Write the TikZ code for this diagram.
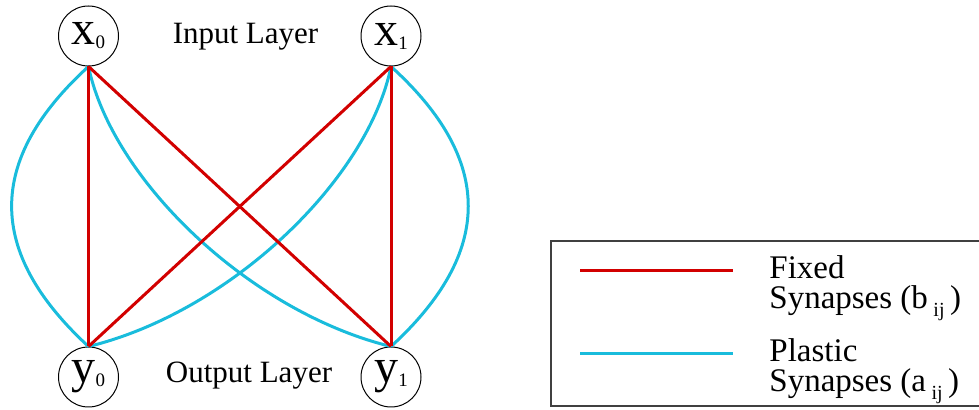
\documentclass[tikz,border=0pt]{standalone}
\usepackage{fontspec}
\setmainfont{Liberation Serif}
\usetikzlibrary{positioning}
\definecolor{FixRed}{RGB}{210,0,0}
\definecolor{PlasCyan}{RGB}{25,188,220}
\newcommand{\neurlbl}[2]{{\fontsize{24}{24}\selectfont #1}{\fontsize{9.5}{9.5}\selectfont\raisebox{-2pt}{#2}}}
\newcommand{\synlbl}[1]{Synapses (#1\,{\fontsize{10}{10}\selectfont\raisebox{-4pt}{ij}}\,)}

\begin{document}
\begin{tikzpicture}[x=0.5pt, y=-0.5pt,
		neuron/.style={circle, draw, line width=0.5pt, minimum size=30pt, inner sep=0pt},
		fixed/.style={FixRed, line width=1.5pt},
		plastic/.style={PlasCyan, line width=1.5pt},
		layer/.style={anchor=base, font=\fontsize{15.5}{15.5}\selectfont},
		legtext/.style={anchor=base west, inner sep=0pt, font=\fontsize{16.5}{16.5}\selectfont}]
		\useasboundingbox (0,0) rectangle (979,410);
		% neurons
		\node[neuron] (x0) at (88.5,36) {\neurlbl{x}{0}};
		\node[neuron] (x1) at (391,36) {\neurlbl{x}{1}};
		\node[neuron] (y0) at (88.5,377) {\neurlbl{y}{0}};
		\node[neuron] (y1) at (391,377) {\neurlbl{y}{1}};
		\node[layer] (inlayer) at (245.5,44) {Input Layer};
		\node[layer] (outlayer) at (249,383) {Output Layer};
		% plastic synapses
		\draw[plastic] (x0.south) .. controls (-14,160) and (-14,252) .. (y0.north);
		\draw[plastic] (x1.south) .. controls (494,160) and (494,252) .. (y1.north);
		\draw[plastic] (x0.south) .. controls (112,180) and (250,312) .. (y1.north);
		\draw[plastic] (x1.south) .. controls (368,180) and (230,312) .. (y0.north);
		% fixed synapses
		\draw[fixed] (x0.south) -- (y0.north);
		\draw[fixed] (x0.south) -- (y1.north);
		\draw[fixed] (x1.south) -- (y0.north);
		\draw[fixed] (x1.south) -- (y1.north);
		% legend
		\draw[line width=0.6pt, black!75] (982,241) -- (551,241) -- (551,406) -- (982,406);
		\coordinate (fa) at (580,271);
		\coordinate (fb) at (733,271);
		\coordinate (pa) at (580,354);
		\coordinate (pb) at (733,354);
		\draw[fixed] (fa) -- (fb);
		\draw[plastic] (pa) -- (pb);
		\node[legtext] (fix1) at (769,279) {Fixed};
		\node[legtext] (fix2) at (769,309) {\synlbl{b}};
		\node[legtext] (pla1) at (769,362) {Plastic};
		\node[legtext] (pla2) at (769,392) {\synlbl{a}};
\end{tikzpicture}
\end{document}
